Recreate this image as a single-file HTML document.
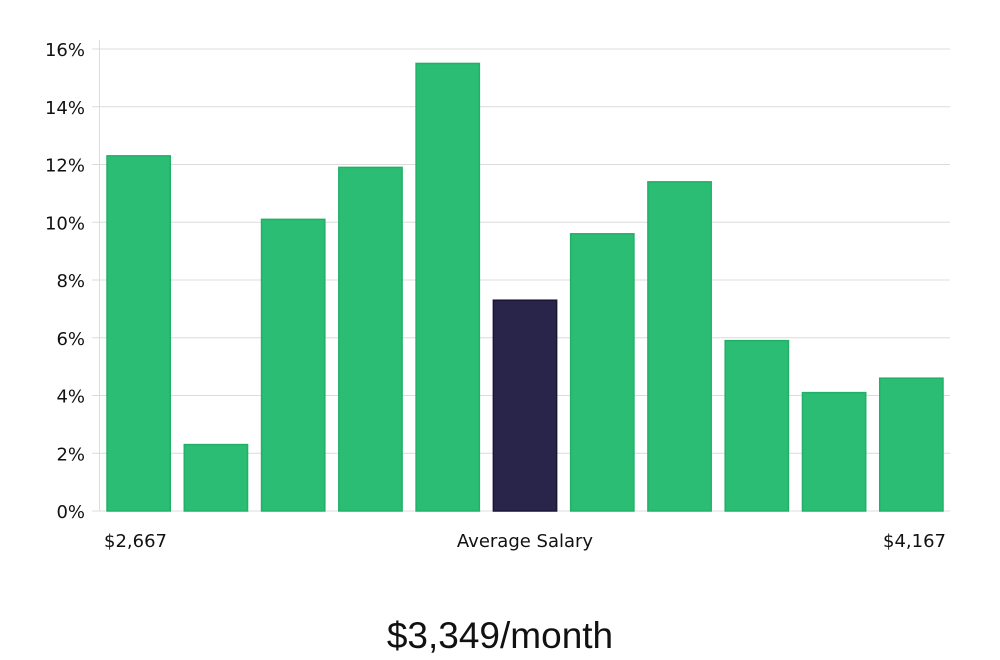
<!DOCTYPE html>
<html><head><meta charset="utf-8"><style>
html,body{margin:0;padding:0;background:#fff;width:1000px;height:660px;overflow:hidden}
svg{display:block}
</style></head><body>
<svg id="chart" width="1000" height="660" xmlns="http://www.w3.org/2000/svg" font-family="DejaVu Sans, sans-serif">
<g id="grid"></g>
<g id="bars"></g>
<g id="yaxis"></g>
<text x="104" y="547" font-size="18" fill="#111">$2,667</text>
<text x="525" y="547" font-size="18" fill="#111" text-anchor="middle">Average Salary</text>
<text x="946" y="547" font-size="18" fill="#111" text-anchor="end">$4,167</text>
<text x="500" y="648" font-size="37" fill="#111" text-anchor="middle" font-family="Liberation Sans, sans-serif">$3,349/month</text>
</svg>
<script>
const categories = ["b1","b2","b3","b4","b5","b6","b7","b8","b9","b10","b11"];
const values = [12.3, 2.3, 10.1, 11.9, 15.5, 7.3, 9.6, 11.4, 5.9, 4.1, 4.6];
const highlightIndex = 5;
const yTicks = [0, 2, 4, 6, 8, 10, 12, 14, 16];
const yTickLabels = ["0%","2%","4%","6%","8%","10%","12%","14%","16%"];

const NS = "http://www.w3.org/2000/svg";
const x0 = 100, x1 = 950, y0 = 511, yTop = 49;
const yScale = v => y0 - (v / 16) * (y0 - yTop);
const band = (x1 - x0) / categories.length;
const xScale = i => x0 + i * band + 7;
const barW = band - 14;

const grid = document.getElementById('grid');
const yaxis = document.getElementById('yaxis');
const bars = document.getElementById('bars');

yTicks.forEach((t, i) => {
  const y = yScale(t);
  const l = document.createElementNS(NS, 'line');
  
  
  l.setAttribute('x1', 92); l.setAttribute('x2', x1);
  l.setAttribute('y1', y); l.setAttribute('y2', y);
  l.setAttribute('stroke', '#dcdcdc'); l.setAttribute('stroke-width', 1);
  grid.appendChild(l);
  const tx = document.createElementNS(NS, 'text');
  
  
  tx.setAttribute('x', 85); tx.setAttribute('y', y + 7);
  tx.setAttribute('text-anchor', 'end');
  tx.setAttribute('font-size', '18'); tx.setAttribute('fill', '#111');
  tx.textContent = yTickLabels[i];
  yaxis.appendChild(tx);
});
const ax = document.createElementNS(NS, 'line');


ax.setAttribute('x1', 99.5); ax.setAttribute('x2', 99.5);
ax.setAttribute('y1', 40); ax.setAttribute('y2', y0);
ax.setAttribute('stroke', '#dcdcdc');
yaxis.appendChild(ax);

values.forEach((v, i) => {
  const r = document.createElementNS(NS, 'rect');
  
  
  const y = yScale(v);
  r.setAttribute('x', xScale(i)); r.setAttribute('y', y);
  r.setAttribute('width', barW); r.setAttribute('height', y0 - y);
  const hi = i === highlightIndex;
  r.setAttribute('fill', hi ? '#29244a' : '#2bbd73');
  r.setAttribute('stroke', hi ? '#1a1535' : '#22b067');
  r.setAttribute('stroke-width', 1.5);
  bars.appendChild(r);
});
</script>
</body></html>
